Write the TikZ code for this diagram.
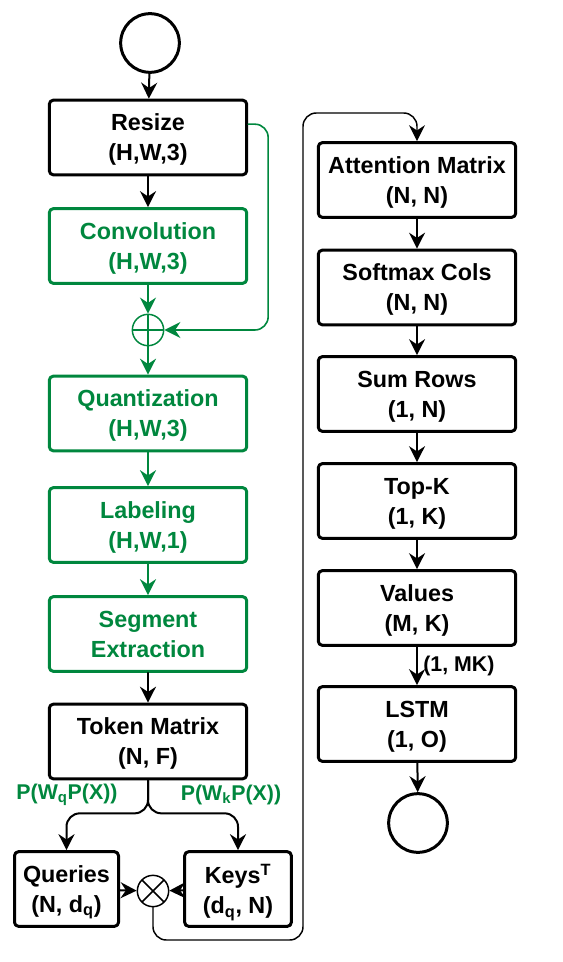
\documentclass[tikz,border=0pt]{standalone}
\usepackage{fontspec}
\setmainfont{Liberation Sans}
\usetikzlibrary{arrows.meta}
\definecolor{flowgreen}{RGB}{0,135,62}

\begin{document}
\begin{tikzpicture}[line cap=round,line join=round,x=0.75pt,y=-0.75pt,
  >={Stealth[length=12pt,width=12pt,inset=4pt]},
  box/.style={draw,line width=2.25pt,rounded corners=3pt,minimum width=148pt,minimum height=56pt,
    align=center,inner sep=2pt,text depth=0pt,font=\fontsize{17.5}{22.5}\selectfont\bfseries},
  gbox/.style={box,draw=flowgreen,text=flowgreen},
  smallbox/.style={box,minimum width=78pt},
  term/.style={draw,circle,line width=2.25pt,minimum size=44pt,inner sep=0pt},
  oper/.style={draw,circle,line width=1.1pt,minimum size=23.5pt,inner sep=0pt},
  arr/.style={->,line width=1.5pt},
  garr/.style={arr,flowgreen},
  lbl/.style={font=\fontsize{16}{19}\selectfont\bfseries,inner sep=1pt}]
\useasboundingbox (0,0) rectangle (562,962);
% left column
\node[term] (start) at (150,43) {};
\node[box] (resize) at (148,137.5) {Resize\\(H,W,3)};
\node[gbox] (conv) at (148,246) {Convolution\\(H,W,3)};
\node[oper,draw=flowgreen,path picture={
  \draw[flowgreen,line width=1.1pt] (path picture bounding box.north) -- (path picture bounding box.south)
    (path picture bounding box.west) -- (path picture bounding box.east);}] (plus) at (148,330) {};
\node[gbox] (quant) at (148,413.5) {Quantization\\(H,W,3)};
\node[gbox] (label) at (148,525) {Labeling\\(H,W,1)};
\node[gbox] (segment) at (148,634) {Segment\\Extraction};
\node[box] (token) at (148,741.5) {Token Matrix\\(N, F)};
\node[smallbox] (queries) at (66.5,889) {Queries\\(N, d\textsubscript{q})};
\node[smallbox,minimum width=80pt] (keys) at (238,889) {Keys\textsuperscript{T}\\(d\textsubscript{q}, N)};
\node[oper,path picture={
  \draw[line width=1.1pt] (path picture bounding box.north west) -- (path picture bounding box.south east)
    (path picture bounding box.south west) -- (path picture bounding box.north east);}] (times) at (153,891) {};
\node[lbl,text=flowgreen] (projq) at (67,795) {P(W\textsubscript{q}P(X))};
\node[lbl,text=flowgreen] (projk) at (231,795) {P(W\textsubscript{k}P(X))};
% right column
\node[box] (attn) at (417,180) {Attention Matrix\\(N, N)};
\node[box] (softmax) at (417,287.5) {Softmax Cols\\(N, N)};
\node[box] (sumrows) at (417,394) {Sum Rows\\(1, N)};
\node[box] (topk) at (417,501) {Top-K\\(1, K)};
\node[box] (values) at (417,608) {Values\\(M, K)};
\node[box] (lstm) at (417,724) {LSTM\\(1, O)};
\node[term] (stop) at (418,823) {};
\coordinate (loopbot) at (303,940);
\coordinate (looptop) at (303,113);

\draw[arr] (start) -- (resize);
\draw[arr] (resize) -- (conv);
\draw[garr] (conv) -- (plus);
\draw[garr] (plus) -- (quant);
\draw[garr] (quant) -- (label);
\draw[garr] (label) -- (segment);
\draw[arr] (segment) -- (token);
\draw[->,flowgreen,line width=1.2pt,rounded corners=10pt] ([yshift=10pt]resize.east) -- ++(20,0) |- (plus.east);
\draw[arr,rounded corners=10pt] (token.south) -- ++(0,33) -| (queries.north);
\draw[arr,rounded corners=10pt] (token.south) -- ++(0,33) -| (keys.north);
\draw[arr] (queries) -- (times);
\draw[arr] (keys) -- (times);
\draw[->,line width=1.1pt,rounded corners=10pt] (times.south) |- (loopbot) -- (looptop) -| (attn.north);
\draw[arr] (attn) -- (softmax);
\draw[arr] (softmax) -- (sumrows);
\draw[arr] (sumrows) -- (topk);
\draw[arr] (topk) -- (values);
\draw[arr] (values) -- node[lbl,right,xshift=3pt] (mk) {(1, MK)} (lstm);
\draw[arr] (lstm) -- (stop);
\end{tikzpicture}
\end{document}
